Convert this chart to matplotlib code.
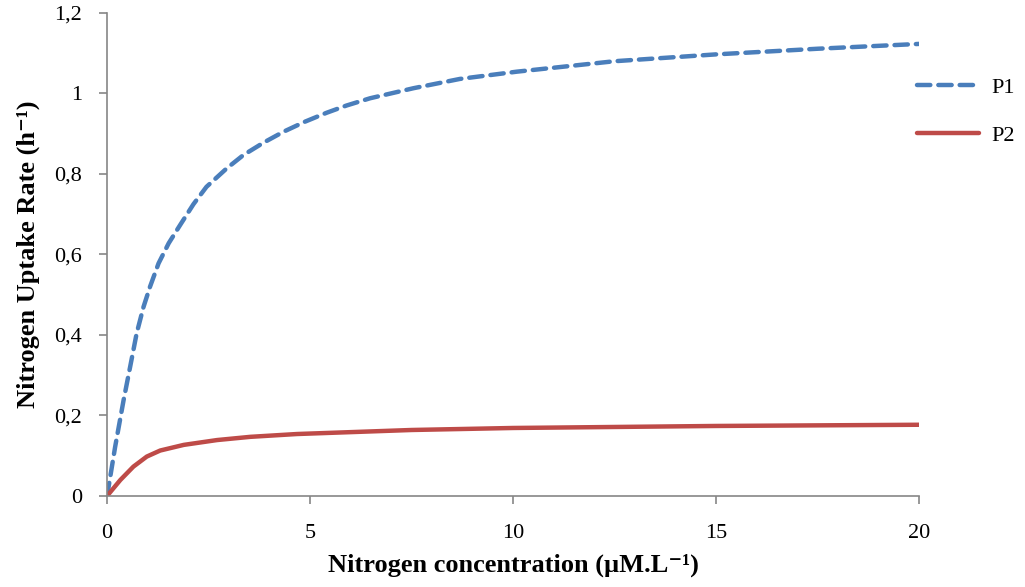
import matplotlib
matplotlib.use("Agg")
import matplotlib.pyplot as plt

# Data
x_p1 = [0, 0.04, 0.2, 0.41, 0.57, 0.73, 0.90, 1.06, 1.27, 1.52, 1.80, 2.13, 2.45, 2.95, 3.36, 3.86,
        4.35, 4.88, 5.41, 5.90, 6.48, 7.55, 8.69, 10.09, 12.5, 15, 17.5, 20]
y_p1 = [0, 0.023, 0.122, 0.239, 0.321, 0.404, 0.470, 0.520, 0.578, 0.628, 0.673, 0.725, 0.768, 0.814,
        0.847, 0.878, 0.905, 0.930, 0.952, 0.970, 0.988, 1.013, 1.036, 1.054, 1.080, 1.097, 1.111, 1.123]
x_p2 = [0, 0.33, 0.65, 0.98, 1.31, 1.89, 2.71, 3.53, 4.68, 7.5, 10, 15, 20]
y_p2 = [0, 0.040, 0.073, 0.098, 0.113, 0.127, 0.139, 0.147, 0.154, 0.164, 0.169, 0.174, 0.177]

x_ticks = [0, 5, 10, 15, 20]
y_ticks = [0, 0.2, 0.4, 0.6, 0.8, 1.0, 1.2]
y_tick_labels = ["0", "0,2", "0,4", "0,6", "0,8", "1", "1,2"]

plt.rcParams['font.family'] = ['Liberation Serif', 'DejaVu Serif']

fig = plt.figure(figsize=(10.25, 5.87), dpi=100)
ax = fig.add_axes([0.1044, 0.155, 0.7922, 0.823])

ax.plot(x_p1, y_p1, color='#4A7EBB', lw=3.2, ls=(0, (3, 1.8)), label='P1',
        solid_capstyle='round', dash_capstyle='round', solid_joinstyle='round')
ax.plot(x_p2, y_p2, color='#BE4B48', lw=3.2, label='P2', solid_capstyle='round', solid_joinstyle='round')

ax.set_xlim(0, 20)
ax.set_ylim(0, 1.2)
ax.set_xticks(x_ticks)
ax.set_xticklabels([str(t) for t in x_ticks])
ax.set_yticks(y_ticks)
ax.set_yticklabels(y_tick_labels)

for s in ['top', 'right']:
    ax.spines[s].set_visible(False)
for s in ['left', 'bottom']:
    ax.spines[s].set_color('#868686')
    ax.spines[s].set_linewidth(1.2)
ax.tick_params(axis='both', direction='out', length=6, color='#868686', width=1.2, labelsize=16)
ax.tick_params(axis='x', pad=14)
ax.tick_params(axis='y', pad=12)

ax.set_xlabel('Nitrogen concentration (µM.L⁻¹)', fontsize=19, fontweight='bold', labelpad=8)
ax.set_ylabel('Nitrogen Uptake Rate (h⁻¹)', fontsize=19, fontweight='bold', labelpad=10)

leg = fig.legend(loc='upper left', bbox_to_anchor=(0.886, 0.884), frameon=False, fontsize=16,
                 handlelength=2.8, labelspacing=1.25, handletextpad=0.55, borderaxespad=0)

fig.savefig('out.png', dpi=100)
